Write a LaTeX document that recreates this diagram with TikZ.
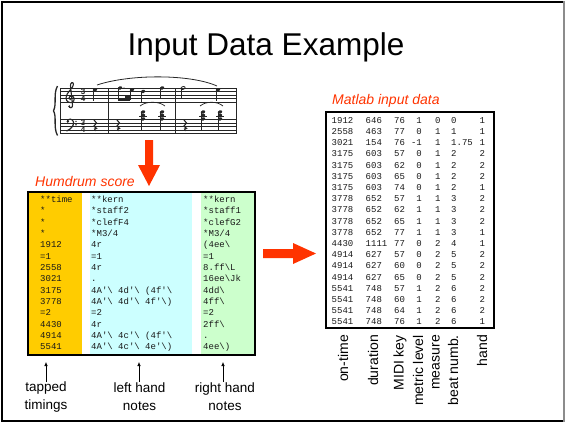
\documentclass[tikz,border=0pt]{standalone}
\usepackage{fontspec}
\setmainfont{Liberation Sans}
\newfontfamily\monof{Liberation Mono}
\usetikzlibrary{arrows.meta}
\definecolor{arrowred}{HTML}{FF3300}
\definecolor{humorange}{HTML}{FFCC00}
\definecolor{humcyan}{HTML}{CCFFFF}
\definecolor{humgreen}{HTML}{CCFFCC}
\newcommand\hbs{\char"5C\relax}
\newcommand\hap{\char"27\relax}
\newcommand\notehd[2]{\fill[rotate around={20:(#1,#2)}] (#1,#2) ellipse [x radius=2.3pt, y radius=1.6pt];}
\newcommand\stemdn[2]{\draw[line width=0.6] (#1-2.1,#2) -- (#1-2.1,#2+11);}
\newcommand\qrest[2]{\draw[line width=1.1] (#1-1,#2-5) -- (#1+1.5,#2-2) -- (#1-1,#2+1) -- (#1+1.5,#2+3.5) .. controls (#1-1,#2+2.5) and (#1-1,#2+5) .. (#1+0.5,#2+6);}
\newcommand\chordq[1]{\notehd{#1}{112}\notehd{#1}{115.5}\notehd{#1}{119}\draw[line width=0.6] (#1-4,116) -- (#1+4,116);\draw[line width=0.6] (#1-2.1,112) -- (#1-2.1,131);}
\tikzset{
  humtxt/.style={font=\monof\fontsize{9}{9}\selectfont, text=black!90, anchor=base west, inner sep=0},
  redlab/.style={font=\itshape\fontsize{14}{16}\selectfont, text=arrowred, anchor=west, inner sep=0},
  collab/.style={font=\fontsize{14}{16}\selectfont, rotate=90, anchor=east, inner sep=0},
  botlab/.style={font=\fontsize{13.5}{18}\selectfont, align=center, inner sep=0},
  uparrow/.style={-{Latex[length=4pt,width=3.5pt]}, line width=0.6},
  bigarrow/.style={fill=arrowred, draw=none}
}
\begin{document}
\begin{tikzpicture}[x=1pt,y=-1pt]
\useasboundingbox (0,0) rectangle (565,423);
% frame
\draw[line width=2.5] (563,2) -- (2,2) -- (2,421) -- (563,421);
\draw[line width=1.2, black!45] (564,1) -- (564,422);

% title
\node[anchor=base, font=\fontsize{31.5}{36}\selectfont, inner sep=0] (title) at (266,55) {Input Data Example};

% ---- music score ----
\begin{scope}[line width=0.6, black!85]
\foreach \k in {0,...,4} {
  \draw (60,88+3.5*\k) -- (236,88+3.5*\k);
  \draw (60,119.5+3.5*\k) -- (236,119.5+3.5*\k);
}
\foreach \bx in {60,108,175,236} \draw[line width=0.8] (\bx,88) -- (\bx,133.5);
\draw[line width=1.3] (57.5,86) .. controls (53,94) and (57,104) .. (53.5,110.8) .. controls (57,117) and (53,127) .. (57.5,135.5);
% treble clef
\draw[line width=1.1] (69,106) .. controls (69,108.5) and (73,108.5) .. (72.5,105) -- (70.5,86) .. controls (70,83) and (73,81) .. (73.5,84) .. controls (74,88) and (66,92) .. (66,98) .. controls (66,102) and (70,103) .. (72,102.5) .. controls (75,101.5) and (75,96) .. (71.5,96) .. controls (68.5,96) and (68.5,99.5) .. (70.5,100);
\fill (69.3,106.3) circle (1.1pt);
% bass clef
\draw[line width=1.2] (67.5,121.5) .. controls (67,118.5) and (73,118) .. (73.5,122) .. controls (74,126) and (70.5,129.5) .. (66.5,131);
\fill (67.8,121.5) circle (1.3pt);
\fill (76,121.3) circle (0.8pt);
\fill (76,124.7) circle (0.8pt);
\node[font=\bfseries\fontsize{8}{8}\selectfont, inner sep=0] (ts1) at (83,91.5) {3};
\node[font=\bfseries\fontsize{8}{8}\selectfont, inner sep=0] (ts2) at (83,98.5) {4};
\node[font=\bfseries\fontsize{8}{8}\selectfont, inner sep=0] (ts3) at (83,123) {3};
\node[font=\bfseries\fontsize{8}{8}\selectfont, inner sep=0] (ts4) at (83,130) {4};
% treble notes
\notehd{95}{89.75}\stemdn{95}{89.75}
\notehd{120}{88}\notehd{132}{89.75}
\draw (117.9,88) -- (117.9,100); \draw (129.9,89.75) -- (129.9,100);
\draw[line width=1.6] (117.9,100) -- (129.9,100);
\draw[line width=1.6] (125,97) -- (129.9,97);
\fill (124,88) circle (0.7pt);
\notehd{143}{91.5}\stemdn{143}{91.5}
\notehd{162}{88}\stemdn{162}{88}
\draw[line width=0.8, rotate around={20:(183,88)}] (183,88) ellipse [x radius=2.2pt, y radius=1.4pt];
\stemdn{183}{88}
\notehd{218}{89.75}\stemdn{218}{89.75}
\draw[line width=0.8] (97,85) .. controls (130,74) and (190,74) .. (217,86);
% bass
\qrest{95}{125}\qrest{118}{125}\qrest{185}{125}
\chordq{143}\chordq{162}\chordq{203}\chordq{220}
\draw[line width=0.7] (140,106) .. controls (146,101) and (159,101) .. (165,106);
\draw[line width=0.7] (200,106) .. controls (206,101) and (217,101) .. (223,106);
\end{scope}

% ---- down arrow ----
\fill[bigarrow] (145,140) -- (153,140) -- (153,165) -- (160,165) -- (149,186) -- (138,165) -- (145,165) -- cycle;

% ---- Humdrum score ----
\node[redlab] (humlab) at (35,181.5) {Humdrum score};
\fill[humorange] (28,192) rectangle (82,355);
\fill[humcyan] (90,192) rectangle (192,355);
\fill[humgreen] (201,192) rectangle (255,355);
\draw[line width=1.5] (28,192) rectangle (255,355);

\foreach \t [count=\i from 0] in {**time,*,*,*,1912,=1,2558,3021,3175,3778,=2,4430,4914,5541}
  \node[humtxt] (ha\i) at (40,202.5+11.34*\i) {\t};
\foreach \t [count=\i from 0] in {**kern,*staff2,*clefF4,*M3/4,4r,=1,4r,{.},{4A\hap\hbs{} 4d\hap\hbs{} (4f\hap\hbs},{4A\hap\hbs{} 4d\hap\hbs{} 4f\hap\hbs)},=2,4r,{4A\hap\hbs{} 4c\hap\hbs{} (4f\hap\hbs},{4A\hap\hbs{} 4c\hap\hbs{} 4e\hap\hbs)}}
  \node[humtxt] (hb\i) at (91,202.5+11.34*\i) {\t};
\foreach \t [count=\i from 0] in {**kern,*staff1,*clefG2,*M3/4,{(4ee\hbs},=1,{8.ff\hbs L},{16ee\hbs Jk},{4dd\hbs},{4ff\hbs},=2,{2ff\hbs},{.},{4ee\hbs)}}
  \node[humtxt] (hc\i) at (203,202.5+11.34*\i) {\t};

% bottom labels and arrows
\node[botlab] (lab1) at (46,397) {tapped\\timings};
\node[botlab] (lab2) at (139.5,397) {left hand\\notes};
\node[botlab] (lab3) at (225,397) {right hand\\notes};
\coordinate (a1) at (46,362);
\coordinate (a2) at (139,362);
\coordinate (a3) at (223,362);
\draw[uparrow] (46,382) -- (a1);
\draw[uparrow] (139,382) -- (a2);
\draw[uparrow] (223,382) -- (a3);

% ---- right arrow ----
\fill[bigarrow] (263,249) -- (293,249) -- (293,243) -- (316,253.5) -- (293,264) -- (293,258) -- (263,258) -- cycle;

% ---- Matlab data ----
\node[redlab] (matlab) at (332,101) {Matlab input data};
\draw[line width=1.2] (326,112) rectangle (494,328);
\foreach \a/\b/\c/\d/\e/\f/\g [count=\i from 0] in {
  1912/646/76/1/0/0/1, 2558/463/77/0/1/1/1, 3021/154/76/-1/1/1.75/1,
  3175/603/57/0/1/2/2, 3175/603/62/0/1/2/2, 3175/603/65/0/1/2/2, 3175/603/74/0/1/2/1,
  3778/652/57/1/1/3/2, 3778/652/62/1/1/3/2, 3778/652/65/1/1/3/2, 3778/652/77/1/1/3/1,
  4430/1111/77/0/2/4/1, 4914/627/57/0/2/5/2, 4914/627/60/0/2/5/2, 4914/627/65/0/2/5/2,
  5541/748/57/1/2/6/2, 5541/748/60/1/2/6/2, 5541/748/64/1/2/6/2, 5541/748/76/1/2/6/1}
{
  \node[humtxt] (ma\i) at (331.5,123.2+11.2*\i) {\a};
  \node[humtxt] (mb\i) at (365.5,123.2+11.2*\i) {\b};
  \node[humtxt] (mc\i) at (394,123.2+11.2*\i) {\c};
  \node[humtxt, anchor=base east] (md\i) at (422,123.2+11.2*\i) {\d};
  \node[humtxt] (me\i) at (435,123.2+11.2*\i) {\e};
  \node[humtxt] (mf\i) at (451,123.2+11.2*\i) {\f};
  \node[humtxt] (mg\i) at (479.5,123.2+11.2*\i) {\g};
}
\node[collab] (c1) at (343,335) {on-time};
\node[collab] (c2) at (373,335) {duration};
\node[collab] (c3) at (400,335) {MIDI key};
\node[collab] (c4) at (418,335) {metric level};
\node[collab] (c5) at (436,335) {measure};
\node[collab] (c6) at (453,335) {beat numb.};
\node[collab] (c7) at (482,335) {hand};
\end{tikzpicture}
\end{document}
